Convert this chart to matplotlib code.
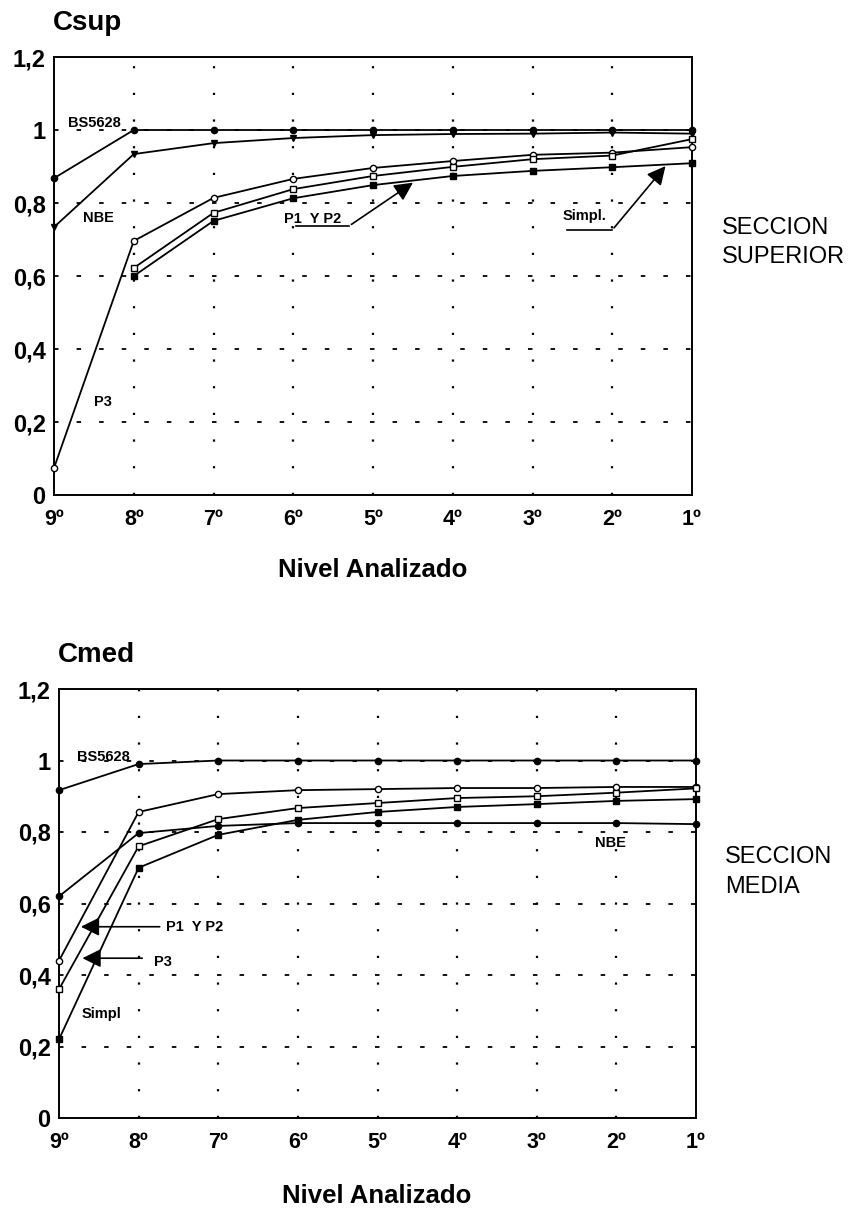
import numpy as np
import matplotlib.pyplot as plt
from matplotlib import font_manager

# niveles (eje x) y etiquetas
niveles = ["9º", "8º", "7º", "6º", "5º", "4º", "3º", "2º", "1º"]
y_ticks = [0, 0.2, 0.4, 0.6, 0.8, 1.0, 1.2]
y_labels = ["0", "0,2", "0,4", "0,6", "0,8", "1", "1,2"]

# seccion superior (Csup)
sup_bs5628 = [0.868, 1.0, 1.0, 1.0, 1.0, 1.0, 1.0, 1.0, 1.0]
sup_nbe = [0.734, 0.934, 0.964, 0.978, 0.986, 0.989, 0.99, 0.993, 0.99]
sup_p3 = [0.074, 0.696, 0.814, 0.866, 0.896, 0.915, 0.932, 0.938, 0.953]
sup_p1p2 = [np.nan, 0.622, 0.773, 0.838, 0.874, 0.899, 0.92, 0.93, 0.975]
sup_simpl = [np.nan, 0.60, 0.751, 0.813, 0.849, 0.874, 0.888, 0.898, 0.909]

# seccion media (Cmed)
med_bs5628 = [0.917, 0.99, 1.0, 1.0, 1.0, 1.0, 1.0, 1.0, 1.0]
med_p1p2 = [0.44, 0.856, 0.906, 0.917, 0.92, 0.923, 0.923, 0.926, 0.926]
med_p3 = [0.36, 0.76, 0.836, 0.867, 0.881, 0.895, 0.90, 0.91, 0.922]
med_nbe = [0.62, 0.797, 0.817, 0.825, 0.825, 0.825, 0.825, 0.825, 0.822]
med_simpl = [0.22, 0.70, 0.792, 0.834, 0.856, 0.87, 0.878, 0.887, 0.892]

names = {f.name for f in font_manager.fontManager.ttflist}
narrow = "Liberation Sans Narrow" if "Liberation Sans Narrow" in names else "Liberation Sans"
plt.rcParams['font.family'] = ['Liberation Sans', 'DejaVu Sans']

fig = plt.figure(figsize=(8.55, 12.1), dpi=100)
W, H = 855.0, 1210.0
ax1 = fig.add_axes([54 / W, 1 - 495 / H, 638 / W, 438 / H])
ax2 = fig.add_axes([59 / W, 1 - 1118 / H, 637 / W, 429 / H])

x = np.arange(len(niveles))


def style_axes(ax):
    ax.set_xlim(0, 8)
    ax.set_ylim(0, 1.2)
    for v in x[1:-1]:
        ax.axvline(v, color='black', lw=1.6, ls=(0, (1, 11)), zorder=1)
    for v in y_ticks[1:-1]:
        ax.axhline(v, color='black', lw=1.3, ls=(0, (2.5, 10)), zorder=1)
    ax.set_xticks(x)
    ax.set_xticklabels(niveles, fontsize=15.5, fontweight='bold', family=narrow)
    ax.set_yticks(y_ticks)
    ax.set_yticklabels(y_labels, fontsize=17, fontweight='bold', family=narrow)
    ax.tick_params(axis='x', length=0, pad=10)
    ax.tick_params(axis='y', length=0, pad=6)
    for s in ax.spines.values():
        s.set_linewidth(1.4)


def serie(ax, vals, marker, face):
    ax.plot(x, vals, color='black', lw=1.3, marker=marker, ms=4.5,
            mfc=face, mec='black', mew=1.0, clip_on=False, zorder=3)


lab = dict(fontsize=10.5, fontweight='bold', family=narrow)
arrow = dict(arrowstyle='-|>', color='black', lw=1.2, mutation_scale=28)

# --- Csup ---
style_axes(ax1)
serie(ax1, sup_bs5628, 'o', 'black')
serie(ax1, sup_nbe, 'v', 'black')
serie(ax1, sup_p3, 'o', 'white')
serie(ax1, sup_p1p2, 's', 'white')
serie(ax1, sup_simpl, 's', 'black')

ax1.text(0.18, 1.02, "BS5628", ha='left', va='center', **lab)
ax1.text(0.36, 0.76, "NBE", ha='left', va='center', **lab)
ax1.text(0.5, 0.255, "P3", ha='left', va='center', **lab)
ax1.text(2.89, 0.756, "P1  Y P2", ha='left', va='center', **lab)
ax1.plot([3.04, 3.7], [0.737, 0.737], color='black', lw=1.2)
ax1.annotate("", xy=(4.53, 0.86), xytext=(3.7, 0.737), arrowprops=arrow)
ax1.text(6.38, 0.764, "Simpl.", ha='left', va='center', **lab)
ax1.plot([6.43, 7.0], [0.726, 0.726], color='black', lw=1.2)
ax1.annotate("", xy=(7.69, 0.907), xytext=(7.0, 0.726), arrowprops=arrow)

fig.text(53 / W, 1 - 23 / H, "Csup", fontsize=20, fontweight='bold', va='center')
fig.text(373 / W, 1 - 570 / H, "Nivel Analizado", fontsize=18.5, fontweight='bold',
         ha='center', va='center')
fig.text(722 / W, 1 - 228 / H, "SECCION", fontsize=17, va='center')
fig.text(722 / W, 1 - 257 / H, "SUPERIOR", fontsize=17, va='center')

# --- Cmed ---
style_axes(ax2)
serie(ax2, med_bs5628, 'o', 'black')
serie(ax2, med_p1p2, 'o', 'white')
serie(ax2, med_p3, 's', 'white')
serie(ax2, med_nbe, 'o', 'black')
serie(ax2, med_simpl, 's', 'black')

ax2.text(0.23, 1.01, "BS5628", ha='left', va='center', **lab)
ax2.text(6.93, 0.77, "NBE", ha='center', va='center', **lab)
ax2.text(1.34, 0.535, "P1  Y P2", ha='left', va='center', **lab)
ax2.annotate("", xy=(0.24, 0.535), xytext=(1.3, 0.535), arrowprops=arrow)
ax2.text(1.19, 0.436, "P3", ha='left', va='center', **lab)
ax2.annotate("", xy=(0.26, 0.447), xytext=(1.08, 0.447), arrowprops=arrow)
ax2.text(0.29, 0.29, "Simpl", ha='left', va='center', **lab)

fig.text(58 / W, 1 - 655 / H, "Cmed", fontsize=20, fontweight='bold', va='center')
fig.text(377 / W, 1 - 1196 / H, "Nivel Analizado", fontsize=18.5, fontweight='bold',
         ha='center', va='center')
fig.text(725 / W, 1 - 857 / H, "SECCION", fontsize=17, va='center')
fig.text(725 / W, 1 - 887 / H, "MEDIA", fontsize=17, va='center')

fig.savefig("out.png", dpi=100)
